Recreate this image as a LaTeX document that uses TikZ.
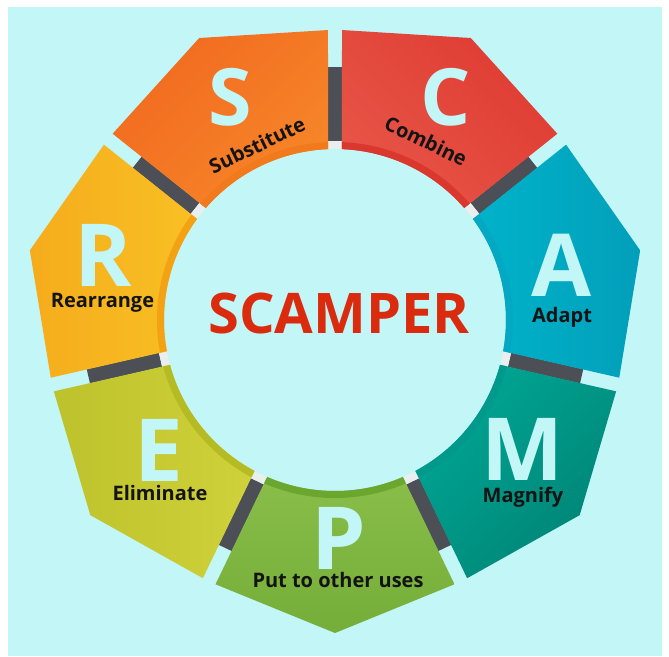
\documentclass[tikz,border=0pt]{standalone}
\usepackage{fontspec}
\setmainfont{Open Sans}
\begin{document}
\begin{tikzpicture}[x=1pt,y=1pt,
  bigletter/.style={text=bgcyan,font=\fontsize{87}{87}\selectfont\bfseries,inner sep=0pt,anchor=center},
  smallletter/.style={text=bgcyan,font=\fontsize{79}{79}\selectfont\bfseries,inner sep=0pt,anchor=center},
  lbl/.style={text=black!92,font=\fontsize{20}{20}\selectfont\bfseries,inner sep=0pt,anchor=center},
  gapbar/.style={line width=14.5pt,draw=bargray},
  gaptip/.style={line width=14.5pt,draw=tipwhite}]
\definecolor{bgcyan}{HTML}{C3F6F7}
\definecolor{bargray}{HTML}{4D4F56}
\definecolor{tipwhite}{HTML}{E9EEEF}
\definecolor{sA}{HTML}{F0601C}\definecolor{sB}{HTML}{F88E2C}\definecolor{sBand}{HTML}{F27A1C}
\definecolor{cA}{HTML}{EA5C4E}\definecolor{cB}{HTML}{DC332A}\definecolor{cBand}{HTML}{DA382E}
\definecolor{aA}{HTML}{00BAD1}\definecolor{aB}{HTML}{0394B0}\definecolor{aBand}{HTML}{05A8C2}
\definecolor{mA}{HTML}{00AE9C}\definecolor{mB}{HTML}{007A6C}\definecolor{mBand}{HTML}{00998C}
\definecolor{pA}{HTML}{92C650}\definecolor{pB}{HTML}{69A430}\definecolor{pBand}{HTML}{6BA72E}
\definecolor{eA}{HTML}{B7BC26}\definecolor{eB}{HTML}{D4D63E}\definecolor{eBand}{HTML}{B5BB22}
\definecolor{rA}{HTML}{F4A118}\definecolor{rB}{HTML}{F9C827}\definecolor{rBand}{HTML}{F2A212}
\newcommand\mysegment[5]{%
  \begin{scope}
    \path[clip] ({#1+23.37}:171) -- ({#1+24.33}:290.07) -- (#1:313) -- ({#1-24.33}:290.07)
      -- ({#1-23.37}:171) arc[start angle={#1-23.37}, end angle={#1+23.37}, radius=171pt] -- cycle;
    \shade[left color=#2,right color=#3,shading angle=#5] (#1:242) ++(-160,-160) rectangle ++(320,320);
    \draw[line width=7pt,draw=#4] (0,0) circle[radius=174.5pt];
  \end{scope}}
% canvas
\useasboundingbox (-335,-336) rectangle (334,320);
\fill[white] (-335,-336) rectangle (334,320);
\fill[bgcyan] (-327,-336) rectangle (327,313);
% gap bars
\foreach \g in {90,38.571,-12.857,-64.286,-115.714,-167.143,141.429}{
  \draw[gapbar] (\g:179) -- (\g:253);
  \draw[gaptip] (\g:171) -- (\g:179);
}
% segments
\mysegment{115.714}{sA}{sB}{sBand}{45}
\mysegment{64.286}{cB}{cA}{cBand}{-45}
\mysegment{12.857}{aA}{aB}{aBand}{90}
\mysegment{-38.571}{mA}{mB}{mBand}{45}
\mysegment{-90}{pA}{pB}{pBand}{0}
\mysegment{-141.429}{eA}{eB}{eBand}{90}
\mysegment{167.143}{rA}{rB}{rBand}{90}
% big letters
\node[smallletter] (S) at (-105,223) {S};
\node[smallletter] (C) at (111,223) {C};
\node[bigletter] (A) at (227,55) {A};
\node[bigletter] (M) at (188,-129) {M};
\node[bigletter] (P) at (4,-218) {P};
\node[bigletter] (E) at (-176,-130) {E};
\node[bigletter] (R) at (-232,65) {R};
% labels
\node[lbl,rotate=25.7] (ls) at (-78,175) {Substitute};
\node[lbl,rotate=-25.7] (lc) at (91,179) {Combine};
\node[lbl] (la) at (227,3) {Adapt};
\node[lbl] (lm) at (188,-177) {Magnify};
\node[lbl] (lp) at (3,-260) {Put to other uses};
\node[lbl] (le) at (-175,-173) {Eliminate};
\node[lbl] (lr) at (-232.5,17.5) {Rearrange};
% title
\node[text={rgb,255:red,219;green,43;blue,15},font=\fontsize{56}{56}\selectfont\bfseries,inner sep=0pt] (title) at (4,7) {SCAMPER};
\end{tikzpicture}
\end{document}
